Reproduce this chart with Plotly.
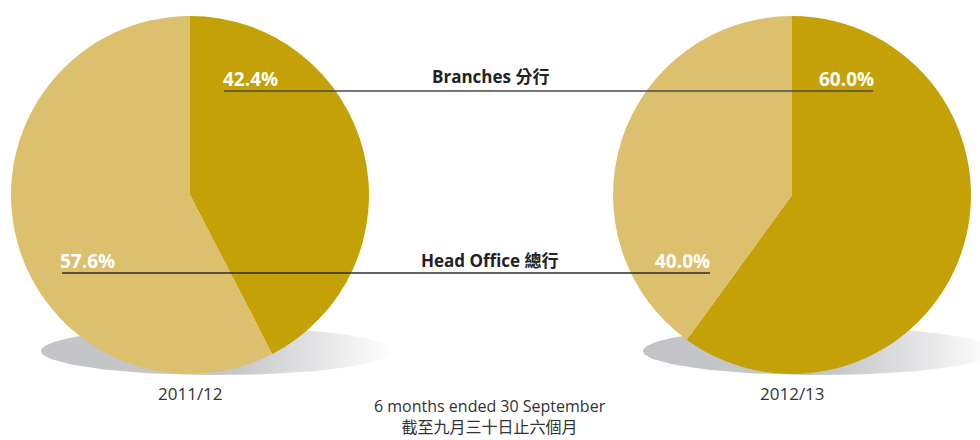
import math
import plotly.graph_objects as go

# data
segments = ['Branches 分行', 'Head Office 總行']
years = ['2011/12', '2012/13']
share_1112 = [42.4, 57.6]
share_1213 = [60.0, 40.0]
subtitle = ['6 months ended 30 September', '截至九月三十日止六個月']

DARK_GOLD = '#c4a106'
LIGHT_GOLD = '#dcc06e'
TEXT = '#333333'
FONT = "'Open Sans', 'Noto Sans CJK TC', sans-serif"

W, H = 980, 440
R = 179
centres = [(190, 195), (792, 195)]


def ellipse(cx, cy, rx, ry, n=120):
    xs = [cx + rx * math.cos(2 * math.pi * i / n) for i in range(n + 1)]
    ys = [cy + ry * math.sin(2 * math.pi * i / n) for i in range(n + 1)]
    return xs, ys


fig = go.Figure()

# shadows under the pies
for cx, cy in centres:
    xs, ys = ellipse(cx + 27, 351, 176, 24)
    fig.add_trace(go.Scatter(
        x=xs, y=ys, mode='lines', fill='toself', line=dict(width=0),
        fillgradient=dict(type='horizontal',
                          colorscale=[[0, '#c3c4c8'], [0.55, '#c6c7ca'], [1, '#ffffff']]),
        hoverinfo='skip', showlegend=False))

for (cx, cy), values in zip(centres, [share_1112, share_1213]):
    fig.add_trace(go.Pie(
        labels=segments, values=values, sort=False, direction='clockwise',
        rotation=0, textinfo='none', hoverinfo='label+percent',
        marker=dict(colors=[DARK_GOLD, LIGHT_GOLD], line=dict(width=0)),
        domain=dict(x=[(cx - R) / W, (cx + R) / W], y=[1 - (cy + R) / H, 1 - (cy - R) / H]),
        showlegend=False))

fig.update_layout(
    width=W, height=H, margin=dict(l=0, r=0, t=0, b=0),
    paper_bgcolor='white', plot_bgcolor='white',
    xaxis=dict(range=[0, W], visible=False, fixedrange=True, domain=[0, 1]),
    yaxis=dict(range=[H, 0], visible=False, fixedrange=True, domain=[0, 1]),
    font=dict(family=FONT, color=TEXT),
)

# leader lines
fig.add_shape(type='line', xref='paper', yref='paper', layer='above',
              x0=224 / W, x1=873 / W, y0=1 - 91 / H, y1=1 - 91 / H,
              line=dict(color='#4a4a4a', width=1.6))
fig.add_shape(type='line', xref='paper', yref='paper', layer='above',
              x0=62 / W, x1=710 / W, y0=1 - 273 / H, y1=1 - 273 / H,
              line=dict(color='#2e2e2e', width=1.6))


def note(x, y, text, size, color=TEXT, xanchor='center', bold=False, yanchor='middle'):
    if bold:
        text = f'<b>{text}</b>'
    fig.add_annotation(x=x / W, y=1 - y / H, xref='paper', yref='paper', text=text,
                       showarrow=False, xanchor=xanchor, yanchor=yanchor, borderpad=0,
                       font=dict(size=size, color=color, family=FONT))


# percentage labels
note(222, 79, f'{share_1112[0]:.1f}%', 19, 'white', 'left', True)
note(59, 261, f'{share_1112[1]:.1f}%', 19, 'white', 'left', True)
note(875, 79, f'{share_1213[0]:.1f}%', 19, 'white', 'right', True)
note(711, 261, f'{share_1213[1]:.1f}%', 19, 'white', 'right', True)

# segment names
note(490, 76, segments[0], 17, '#222222', bold=True)
note(490, 260, segments[1], 17, '#222222', bold=True)

# year labels and footnote
note(centres[0][0], 393, years[0], 17)
note(centres[1][0], 393, years[1], 17)
note(490, 439, '<br>'.join(subtitle), 16, yanchor='bottom')

fig.write_html('out.html', config={'displayModeBar': False},
               post_script="document.body.style.margin='0px';")
